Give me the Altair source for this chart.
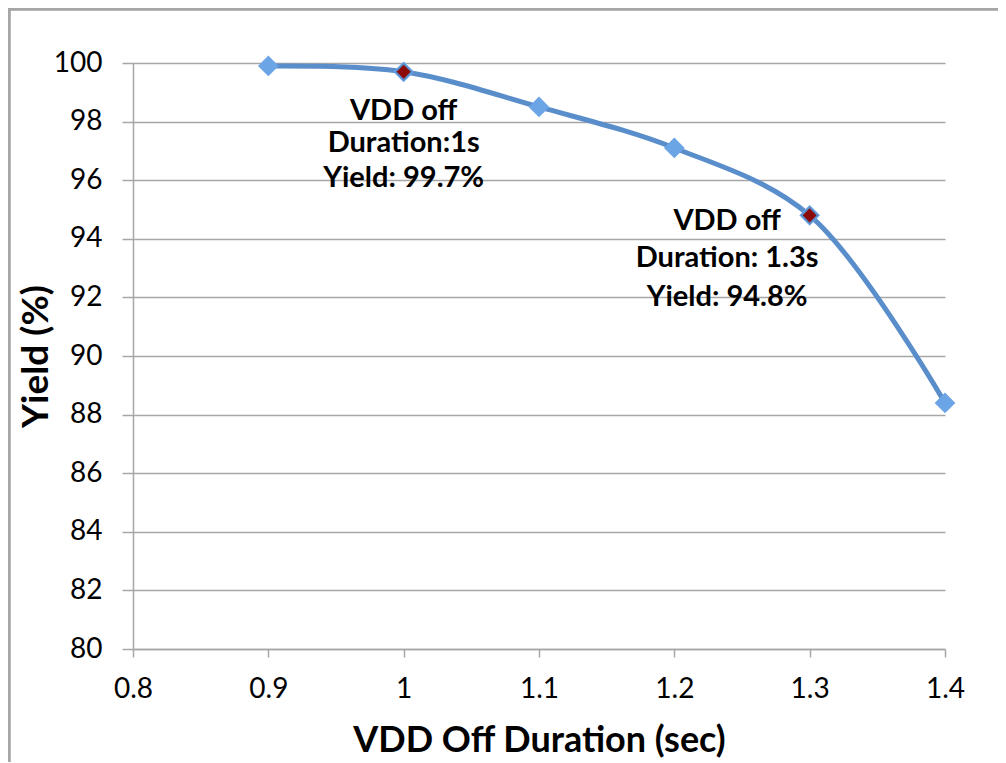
import altair as alt
import pandas as pd

duration = [0.9, 1.0, 1.1, 1.2, 1.3, 1.4]
yield_pct = [99.9, 99.7, 98.5, 97.1, 94.8, 88.4]

hl_duration = [1.0, 1.3]
hl_yield = [99.7, 94.8]

ann_text = ["VDD off", "Duration:1s", "Yield: 99.7%",
            "VDD off", "Duration: 1.3s", "Yield: 94.8%"]
ann_x = [1.0, 1.0, 1.0, 1.239, 1.239, 1.239]
ann_y = [98.36, 97.27, 96.08, 94.61, 93.34, 92.01]

x_ticks = [0.8, 0.9, 1.0, 1.1, 1.2, 1.3, 1.4]
y_ticks = [80, 82, 84, 86, 88, 90, 92, 94, 96, 98, 100]

FONT = "Lato"
GRAY = "#A6A6A6"

df = pd.DataFrame({"d": duration, "y": yield_pct})
hl = pd.DataFrame({"d": hl_duration, "y": hl_yield})
ann = pd.DataFrame({"t": ann_text, "d": ann_x, "y": ann_y})

xs = alt.Scale(domain=[0.8, 1.4], nice=False, zero=False)
ys = alt.Scale(domain=[80, 100], nice=False, zero=False)

x_axis = alt.Axis(values=x_ticks, format="~g", title="VDD Off Duration (sec)",
                  grid=False, domainColor=GRAY, domainWidth=1.5,
                  tickColor=GRAY, tickWidth=1.5, tickSize=8,
                  labelFont=FONT, labelFontSize=28, labelColor="black",
                  labelPadding=18, labelFlush=False,
                  titleFont=FONT, titleFontSize=36, titleFontWeight="bold",
                  titleColor="black", titlePadding=20)
y_axis = alt.Axis(values=y_ticks, title="Yield (%)",
                  grid=True, gridColor=GRAY, gridWidth=1.5,
                  domainColor=GRAY, domainWidth=1.5,
                  tickColor=GRAY, tickWidth=1.5, tickSize=11,
                  labelFont=FONT, labelFontSize=28, labelColor="black",
                  labelPadding=20,
                  titleFont=FONT, titleFontSize=37, titleFontWeight="bold",
                  titleColor="black", titlePadding=-2)

border = alt.Chart(df).mark_rect(filled=False, stroke=GRAY, strokeWidth=2.5).encode(
    x=alt.value(-124), x2=alt.value(1100), y=alt.value(-54), y2=alt.value(800)
)

line = alt.Chart(df).mark_line(interpolate="catmull-rom", color="#5A8ECB",
                               strokeWidth=5).encode(
    x=alt.X("d:Q", scale=xs, axis=x_axis),
    y=alt.Y("y:Q", scale=ys, axis=y_axis),
)

pts = alt.Chart(df).mark_point(shape="diamond", filled=True, size=430,
                               color="#6CA5E6", opacity=1).encode(
    x=alt.X("d:Q", scale=xs), y=alt.Y("y:Q", scale=ys)
)

hlp = alt.Chart(hl).mark_point(shape="diamond", filled=True, size=260,
                               fill="#8B0A0A", stroke="#5A8ECB", strokeWidth=1.5,
                               opacity=1).encode(
    x=alt.X("d:Q", scale=xs), y=alt.Y("y:Q", scale=ys)
)

txt = alt.Chart(ann).mark_text(font=FONT, fontSize=29, fontWeight="bold",
                               color="black", align="center",
                               baseline="middle").encode(
    x=alt.X("d:Q", scale=xs), y=alt.Y("y:Q", scale=ys), text="t:N"
)

chart = alt.layer(border, line, pts, hlp, txt).properties(
    width=812, height=586,
    autosize=alt.AutoSizeParams(type="none"),
    padding={"left": 125, "top": 55, "right": 53, "bottom": 113},
    background="white",
).configure_view(stroke=None)

chart.save("out.html", embed_options={"renderer": "svg", "actions": False})
